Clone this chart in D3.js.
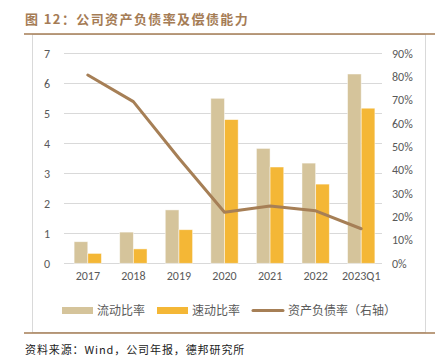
<!DOCTYPE html>
<html>
<head>
<meta charset="utf-8">
<script src="https://cdn.jsdelivr.net/npm/d3@7"></script>
<style>
  body { margin: 0; background: #fff; }
  text { font-family: "Noto Sans CJK SC", "Noto Sans", sans-serif; }
</style>
</head>
<body>
<svg id="chart" width="438" height="361"></svg>
<script>
// data ----------------------------------------
var categories = ["2017", "2018", "2019", "2020", "2021", "2022", "2023Q1"];
var currentRatio = [0.72, 1.04, 1.78, 5.50, 3.83, 3.34, 6.31];
var quickRatio = [0.33, 0.48, 1.12, 4.79, 3.21, 2.64, 5.17];
var debtRatio = [80.7, 69.3, 45.0, 21.9, 24.6, 22.5, 14.8]; // %
var leftTicks = [0, 1, 2, 3, 4, 5, 6, 7];
var rightTicks = [0, 10, 20, 30, 40, 50, 60, 70, 80, 90];

var svg = d3.select("#chart");

var colCurrent = "#D5C49B";
var colQuick = "#F4B736";
var colLine = "#A67F56";
var brown = "#A57C55";

// frame ----------------------------------------
svg.append("text")
  .attr("x", 25).attr("y", 24)
  .attr("fill", brown)
  .attr("font-size", 13).attr("font-weight", "bold")
  .attr("letter-spacing", 1.4)
  .text("图 12：公司资产负债率及偿债能力");

svg.append("rect")
  .attr("x", 32.5).attr("y", 34.5)
  .attr("width", 393).attr("height", 298)
  .attr("fill", "none").attr("stroke", "#d9d9d9");

svg.append("line")
  .attr("x1", 24).attr("x2", 435).attr("y1", 34).attr("y2", 34)
  .attr("stroke", brown).attr("stroke-width", 1.5);
svg.append("line")
  .attr("x1", 24).attr("x2", 435).attr("y1", 333).attr("y2", 333)
  .attr("stroke", brown).attr("stroke-width", 1.5);

svg.append("text")
  .attr("x", 25).attr("y", 354)
  .attr("fill", "#222").attr("font-size", 11)
  .attr("letter-spacing", 0.9)
  .text("资料来源：Wind，公司年报，德邦研究所");

// scales ----------------------------------------
var x = d3.scaleBand().domain(categories).range([65, 384]).paddingInner(0.4).paddingOuter(0.2);
var yL = d3.scaleLinear().domain([0, 7]).range([263.3, 53.3]);
var yR = d3.scaleLinear().domain([0, 90]).range([263.3, 53.3]);

// grid ----------------------------------------
svg.append("g").selectAll("line")
  .data(leftTicks)
  .enter().append("line")
  .attr("x1", 64).attr("x2", 382)
  .attr("y1", function(d) { return Math.round(yL(d)) + 0.5; })
  .attr("y2", function(d) { return Math.round(yL(d)) + 0.5; })
  .attr("stroke", "#d9d9d9").attr("stroke-width", 1);

// axes ----------------------------------------
var leftAxis = svg.append("g")
  .attr("transform", "translate(50,0)")
  .call(d3.axisLeft(yL).tickValues(leftTicks).tickSize(0).tickPadding(0).tickFormat(d3.format("d")));
var rightAxis = svg.append("g")
  .attr("transform", "translate(392,0)")
  .call(d3.axisRight(yR).tickValues(rightTicks).tickSize(0).tickPadding(0).tickFormat(function(d) { return d + "%"; }));
var bottomAxis = svg.append("g")
  .attr("transform", "translate(0,269)")
  .call(d3.axisBottom(x).tickSize(0).tickPadding(0));

[leftAxis, rightAxis, bottomAxis].forEach(function(a) {
  a.select(".domain").remove();
  a.selectAll("text")
    .attr("fill", "#595959")
    .attr("font-size", 12)
    .style("font-family", "Calibri, Carlito, 'Liberation Sans', sans-serif");
});
bottomAxis.selectAll("text").attr("dy", "0.9em");

// bars ----------------------------------------
var bw = x.bandwidth() / 2;

svg.append("g").selectAll("rect")
  .data(currentRatio)
  .enter().append("rect")
  .attr("x", function(d, i) { return x(categories[i]); })
  .attr("y", function(d) { return yL(d); })
  .attr("width", bw)
  .attr("height", function(d) { return yL(0) - yL(d); })
  .attr("fill", colCurrent)
  .attr("stroke", "#fff").attr("stroke-opacity", 0.6).attr("stroke-width", 0.8);

svg.append("g").selectAll("rect")
  .data(quickRatio)
  .enter().append("rect")
  .attr("x", function(d, i) { return x(categories[i]) + bw; })
  .attr("y", function(d) { return yL(d); })
  .attr("width", bw)
  .attr("height", function(d) { return yL(0) - yL(d); })
  .attr("fill", colQuick)
  .attr("stroke", "#fff").attr("stroke-opacity", 0.6).attr("stroke-width", 0.8);

// line ----------------------------------------
var line = d3.line()
  .x(function(d, i) { return x(categories[i]) + x.bandwidth() / 2; })
  .y(function(d) { return yR(d); });

svg.append("path")
  .datum(debtRatio)
  .attr("d", line)
  .attr("fill", "none")
  .attr("stroke", colLine)
  .attr("stroke-width", 3)
  .attr("stroke-linecap", "round")
  .attr("stroke-linejoin", "round");

// legend ----------------------------------------
var legend = svg.append("g");
legend.append("rect").attr("x", 62).attr("y", 307).attr("width", 31).attr("height", 7).attr("fill", colCurrent);
legend.append("text").attr("x", 97).attr("y", 315).text("流动比率");
legend.append("rect").attr("x", 157).attr("y", 307).attr("width", 31).attr("height", 7).attr("fill", colQuick);
legend.append("text").attr("x", 192).attr("y", 315).text("速动比率");
legend.append("line").attr("x1", 253).attr("x2", 283).attr("y1", 310.5).attr("y2", 310.5)
  .attr("stroke", colLine).attr("stroke-width", 3).attr("stroke-linecap", "round");
legend.append("text").attr("x", 288).attr("y", 315).text("资产负债率（右轴）");
legend.selectAll("text").attr("fill", "#595959").attr("font-size", 12);
</script>
</body>
</html>
